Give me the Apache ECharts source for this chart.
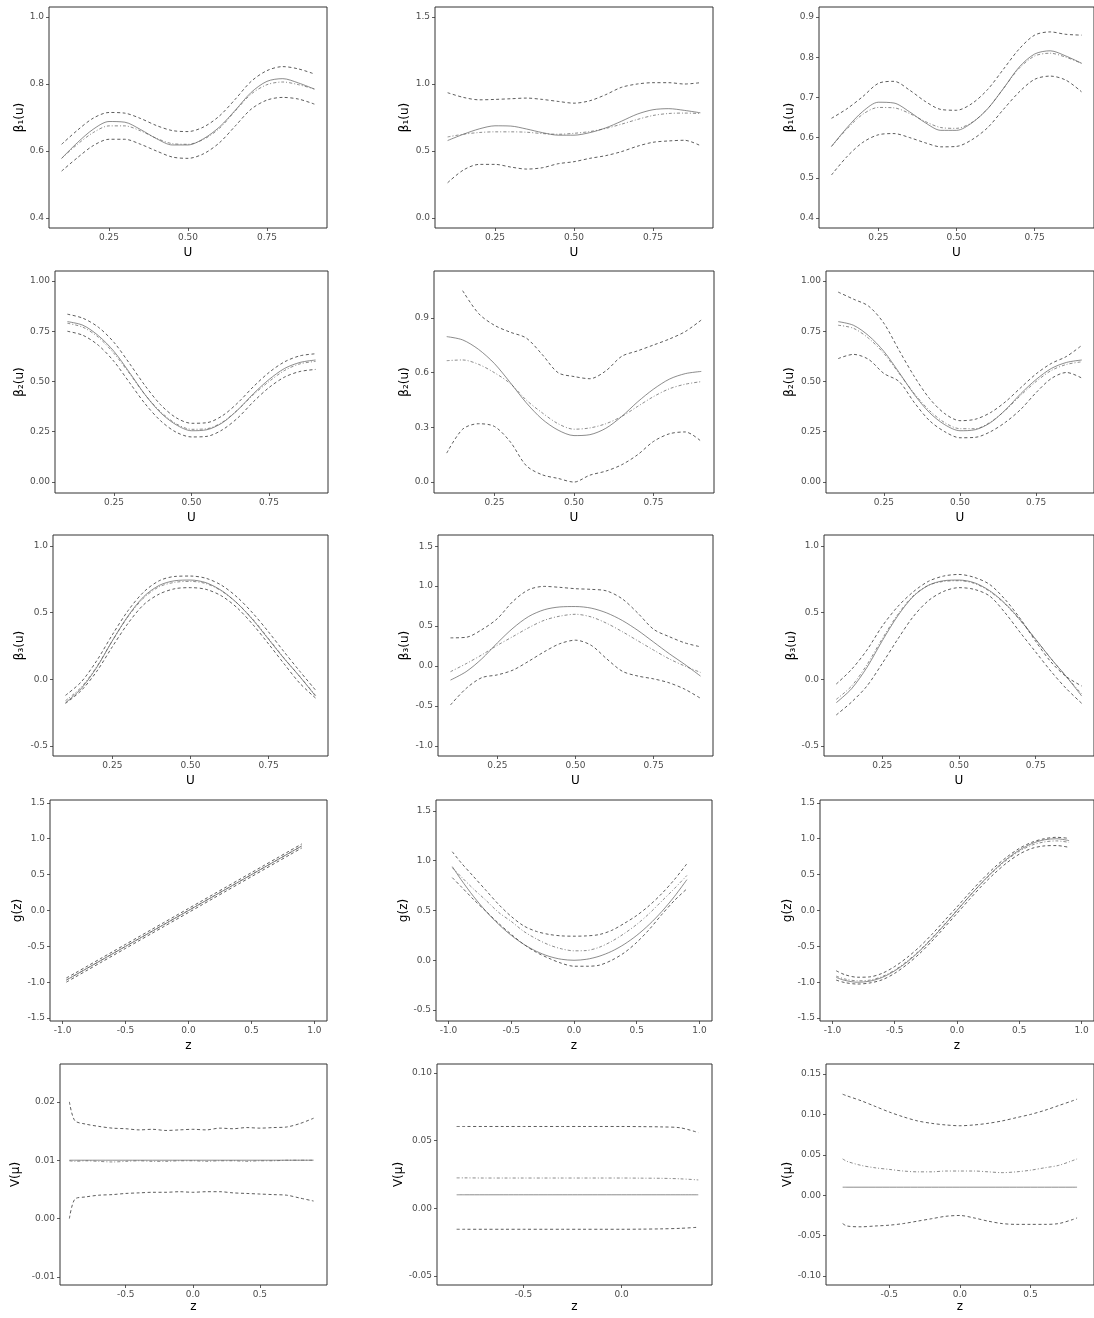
<!DOCTYPE html>
<html><head><meta charset="utf-8">
<script src="https://cdn.jsdelivr.net/npm/echarts@6/dist/echarts.min.js"></script>
<style>html,body{margin:0;padding:0;background:#fff}#c{width:1094px;height:1318px}</style>
</head><body><div id="c"></div>
<script>
// ---------- data ----------
const uGrid = [0.10,0.15,0.20,0.25,0.30,0.35,0.40,0.45,0.50,0.55,0.60,0.65,0.70,0.75,0.80,0.85,0.90];
const zGrid = [-0.97,-0.9,-0.8,-0.7,-0.6,-0.5,-0.4,-0.3,-0.2,-0.1,0,0.1,0.2,0.3,0.4,0.5,0.6,0.7,0.8,0.9];
const z13 = [-0.92,-0.88,-0.8,-0.7,-0.6,-0.5,-0.4,-0.3,-0.2,-0.1,0,0.1,0.2,0.3,0.4,0.5,0.6,0.7,0.8,0.9];
const z14 = [-0.84,-0.8,-0.7,-0.6,-0.5,-0.4,-0.3,-0.2,-0.1,0,0.1,0.2,0.3,0.39];
const z15 = [-0.83,-0.8,-0.7,-0.6,-0.5,-0.4,-0.3,-0.2,-0.1,0,0.1,0.2,0.3,0.4,0.5,0.6,0.7,0.8,0.83];

// true functions
const beta1True = [0.578,0.625,0.665,0.688,0.686,0.664,0.637,0.618,0.618,0.637,0.672,0.722,0.775,0.808,0.816,0.803,0.785];
const beta2True = [0.798,0.78,0.728,0.65,0.545,0.435,0.345,0.285,0.255,0.26,0.295,0.36,0.44,0.51,0.565,0.595,0.607];
const beta3True = [-0.175,-0.07,0.09,0.29,0.475,0.62,0.705,0.74,0.745,0.725,0.665,0.57,0.445,0.3,0.155,0.02,-0.125];
const gLinTrue = [-0.97,-0.9,-0.8,-0.7,-0.6,-0.5,-0.4,-0.3,-0.2,-0.1,0,0.1,0.2,0.3,0.4,0.5,0.6,0.7,0.8,0.9];
const gSqTrue = [0.941,0.81,0.64,0.49,0.36,0.25,0.16,0.09,0.04,0.01,0,0.01,0.04,0.09,0.16,0.25,0.36,0.49,0.64,0.81];
const gSinTrue = [-0.933,-0.974,-1.0,-0.985,-0.932,-0.841,-0.717,-0.565,-0.389,-0.199,0,0.199,0.389,0.565,0.717,0.841,0.932,0.985,1.0,0.974];
const vTrue13 = [0.01,0.01,0.01,0.01,0.01,0.01,0.01,0.01,0.01,0.01,0.01,0.01,0.01,0.01,0.01,0.01,0.01,0.01,0.01,0.01];
const vTrue14 = [0.01,0.01,0.01,0.01,0.01,0.01,0.01,0.01,0.01,0.01,0.01,0.01,0.01,0.01];
const vTrue15 = [0.01,0.01,0.01,0.01,0.01,0.01,0.01,0.01,0.01,0.01,0.01,0.01,0.01,0.01,0.01,0.01,0.01,0.01,0.01];

// row 1
const est1 = [0.578,0.62,0.655,0.675,0.675,0.66,0.638,0.622,0.62,0.635,0.668,0.72,0.77,0.798,0.806,0.798,0.785];
const hi1  = [0.62,0.662,0.698,0.715,0.713,0.697,0.676,0.661,0.658,0.672,0.705,0.755,0.808,0.84,0.852,0.845,0.83];
const lo1  = [0.54,0.58,0.616,0.635,0.635,0.62,0.6,0.582,0.578,0.592,0.625,0.675,0.725,0.752,0.76,0.755,0.74];
const est2 = [0.605,0.625,0.638,0.643,0.643,0.64,0.63,0.625,0.632,0.645,0.668,0.7,0.735,0.765,0.78,0.783,0.78];
const hi2  = [0.935,0.9,0.882,0.885,0.89,0.895,0.885,0.87,0.857,0.875,0.92,0.975,1.0,1.01,1.01,1.0,1.01];
const lo2  = [0.263,0.358,0.4,0.4,0.38,0.365,0.375,0.405,0.42,0.445,0.465,0.495,0.535,0.565,0.575,0.58,0.54];
const est3 = [0.578,0.622,0.658,0.675,0.674,0.66,0.64,0.625,0.623,0.638,0.672,0.722,0.772,0.803,0.81,0.8,0.785];
const hi3  = [0.648,0.672,0.702,0.735,0.74,0.718,0.69,0.67,0.668,0.685,0.72,0.77,0.82,0.855,0.863,0.857,0.855];
const lo3  = [0.507,0.553,0.588,0.607,0.61,0.6,0.587,0.577,0.578,0.595,0.625,0.67,0.713,0.745,0.753,0.743,0.714];
// row 2
const est4 = [0.79,0.77,0.72,0.64,0.54,0.435,0.35,0.29,0.262,0.265,0.298,0.36,0.435,0.5,0.555,0.588,0.6];
const hi4  = [0.835,0.815,0.77,0.695,0.59,0.48,0.385,0.32,0.292,0.295,0.33,0.395,0.475,0.545,0.598,0.628,0.638];
const lo4  = [0.75,0.73,0.68,0.6,0.495,0.39,0.305,0.248,0.224,0.227,0.26,0.32,0.4,0.47,0.522,0.55,0.56];
const est5 = [0.666,0.67,0.646,0.6,0.54,0.45,0.38,0.32,0.29,0.297,0.32,0.36,0.415,0.469,0.512,0.537,0.551];
const hi5  = [null,1.05,0.925,0.86,0.822,0.79,0.7,0.6,0.579,0.567,0.61,0.69,0.72,0.752,0.785,0.826,0.889];
const lo5  = [0.159,0.29,0.32,0.305,0.22,0.09,0.04,0.02,0.0,0.038,0.06,0.095,0.15,0.223,0.265,0.275,0.223];
const est6 = [0.78,0.765,0.715,0.64,0.54,0.44,0.355,0.295,0.265,0.265,0.298,0.358,0.432,0.5,0.555,0.585,0.598];
const hi6  = [0.945,0.91,0.875,0.79,0.655,0.525,0.415,0.34,0.305,0.312,0.345,0.4,0.47,0.538,0.59,0.625,0.68];
const lo6  = [0.614,0.635,0.61,0.54,0.5,0.395,0.305,0.25,0.22,0.222,0.25,0.298,0.362,0.445,0.515,0.545,0.517];
// row 3
const est7 = [-0.16,-0.06,0.095,0.29,0.47,0.61,0.695,0.728,0.735,0.718,0.662,0.57,0.45,0.305,0.158,0.02,-0.12];
const hi7  = [-0.12,-0.02,0.14,0.335,0.515,0.655,0.74,0.772,0.775,0.758,0.705,0.615,0.495,0.355,0.205,0.06,-0.08];
const lo7  = [-0.18,-0.085,0.06,0.245,0.42,0.56,0.64,0.68,0.688,0.675,0.625,0.535,0.41,0.265,0.115,-0.03,-0.14];
const est8 = [-0.07,0.03,0.14,0.26,0.37,0.48,0.573,0.625,0.648,0.615,0.535,0.43,0.315,0.2,0.09,0.0,-0.079];
const hi8  = [0.353,0.36,0.455,0.594,0.81,0.955,0.997,0.985,0.968,0.96,0.94,0.84,0.66,0.46,0.368,0.29,0.241];
const lo8  = [-0.486,-0.28,-0.145,-0.11,-0.05,0.06,0.179,0.28,0.324,0.26,0.09,-0.065,-0.125,-0.16,-0.21,-0.29,-0.403];
const est9 = [-0.15,-0.05,0.11,0.305,0.485,0.625,0.705,0.735,0.74,0.72,0.66,0.565,0.44,0.3,0.155,0.02,-0.11];
const hi9  = [-0.035,0.075,0.22,0.4,0.545,0.655,0.735,0.775,0.787,0.765,0.712,0.6,0.455,0.285,0.13,0.02,-0.05];
const lo9  = [-0.267,-0.17,-0.05,0.12,0.3,0.468,0.59,0.66,0.688,0.675,0.625,0.5,0.35,0.205,0.06,-0.07,-0.18];
// row 4
const est10 = [-0.968,-0.9,-0.8,-0.701,-0.6,-0.5,-0.4,-0.3,-0.2,-0.1,0.001,0.1,0.2,0.3,0.4,0.5,0.6,0.7,0.8,0.9];
const hi10  = [-0.94,-0.872,-0.772,-0.672,-0.572,-0.472,-0.372,-0.272,-0.172,-0.072,0.028,0.128,0.228,0.328,0.428,0.528,0.628,0.728,0.828,0.928];
const lo10  = [-0.998,-0.928,-0.828,-0.728,-0.628,-0.528,-0.428,-0.328,-0.228,-0.128,-0.028,0.072,0.172,0.272,0.372,0.472,0.572,0.672,0.772,0.872];
const est11 = [0.93,0.84,0.715,0.6,0.48,0.39,0.29,0.215,0.155,0.115,0.095,0.098,0.13,0.19,0.268,0.36,0.47,0.595,0.72,0.852];
const hi11  = [1.09,0.98,0.84,0.7,0.56,0.44,0.345,0.29,0.26,0.245,0.242,0.245,0.258,0.3,0.37,0.45,0.55,0.67,0.81,0.97];
const lo11  = [0.83,0.74,0.61,0.49,0.37,0.26,0.16,0.08,0.02,-0.03,-0.06,-0.06,-0.05,0.0,0.075,0.18,0.31,0.46,0.6,0.718];
const est12 = [-0.915,-0.955,-0.98,-0.97,-0.92,-0.83,-0.705,-0.555,-0.38,-0.19,0.005,0.2,0.385,0.555,0.705,0.825,0.91,0.955,0.97,0.95];
const hi12  = [-0.84,-0.895,-0.93,-0.925,-0.875,-0.78,-0.655,-0.505,-0.33,-0.14,0.05,0.245,0.43,0.6,0.745,0.865,0.95,1.0,1.02,1.005];
const lo12  = [-0.97,-1.005,-1.025,-1.01,-0.965,-0.875,-0.75,-0.6,-0.425,-0.235,-0.04,0.155,0.345,0.515,0.665,0.785,0.865,0.9,0.905,0.88];
// row 5
const est13 = [0.0099,0.0098,0.0099,0.0098,0.0097,0.0098,0.0099,0.0098,0.0098,0.0099,0.0099,0.0098,0.0099,0.0099,0.0098,0.0099,0.0099,0.01,0.01,0.01];
const hi13  = [0.0200,0.0168,0.0162,0.0158,0.0155,0.0154,0.0152,0.0153,0.0151,0.0152,0.0153,0.0152,0.0155,0.0154,0.0156,0.0155,0.0156,0.0157,0.0163,0.0172];
const lo13  = [0.0,0.0033,0.0037,0.004,0.0041,0.0043,0.0044,0.0045,0.0045,0.0046,0.0045,0.0046,0.0046,0.0044,0.0043,0.0042,0.0041,0.004,0.0035,0.003];
const est14 = [0.0225,0.0225,0.0224,0.0224,0.0224,0.0224,0.0224,0.0224,0.0224,0.0224,0.0223,0.0222,0.0218,0.021];
const hi14  = [0.0605,0.0605,0.0605,0.0605,0.0605,0.0605,0.0605,0.0605,0.0605,0.0605,0.0604,0.0602,0.0595,0.056];
const lo14  = [-0.0155,-0.0155,-0.0155,-0.0155,-0.0155,-0.0155,-0.0155,-0.0155,-0.0155,-0.0155,-0.0154,-0.0152,-0.0148,-0.014];
const est15 = [0.045,0.042,0.037,0.034,0.032,0.03,0.029,0.029,0.03,0.03,0.03,0.029,0.028,0.029,0.031,0.034,0.037,0.043,0.045];
const hi15  = [0.125,0.123,0.117,0.11,0.103,0.097,0.092,0.089,0.087,0.086,0.087,0.089,0.092,0.096,0.1,0.105,0.111,0.117,0.119];
const lo15  = [-0.035,-0.038,-0.039,-0.038,-0.037,-0.035,-0.032,-0.029,-0.026,-0.025,-0.028,-0.032,-0.035,-0.036,-0.036,-0.036,-0.035,-0.03,-0.028];

// ---------- layout ----------
const uTicks = [0.25,0.5,0.75];
const zTicks = [-1,-0.5,0,0.5,1];
const panels = [
 {g:[49,7,278,221],  x:[0.06,0.94,uTicks,2], y:[0.37,1.03,[0.4,0.6,0.8,1.0],1], xn:'U', yn:'β₁(u)', yg:23, xg:19, xs:uGrid, d:[beta1True,est1,lo1,hi1]},
 {g:[435,7,278,221], x:[0.06,0.94,uTicks,2], y:[-0.075,1.575,[0,0.5,1,1.5],1], xn:'U', yn:'β₁(u)', yg:24, xg:19, xs:uGrid, d:[beta1True,est2,lo2,hi2]},
 {g:[819,7,279,221], x:[0.06,0.94,uTicks,2], y:[0.375,0.925,[0.4,0.5,0.6,0.7,0.8,0.9],1], xn:'U', yn:'β₁(u)', yg:23, xg:19, xs:uGrid, d:[beta1True,est3,lo3,hi3]},
 {g:[55,271,273,222], x:[0.06,0.94,uTicks,2], y:[-0.055,1.05,[0,0.25,0.5,0.75,1],2], xn:'U', yn:'β₂(u)', yg:29, xg:19, xs:uGrid, d:[beta2True,est4,lo4,hi4]},
 {g:[434,271,280,222], x:[0.06,0.94,uTicks,2], y:[-0.06,1.158,[0,0.3,0.6,0.9],1], xn:'U', yn:'β₂(u)', yg:22, xg:19, xs:uGrid, d:[beta2True,est5,lo5,hi5]},
 {g:[826,271,271,222], x:[0.06,0.94,uTicks,2], y:[-0.055,1.05,[0,0.25,0.5,0.75,1],2], xn:'U', yn:'β₂(u)', yg:30, xg:19, xs:uGrid, d:[beta2True,est6,lo6,hi6]},
 {g:[53,535,275,221], x:[0.06,0.94,uTicks,2], y:[-0.575,1.083,[-0.5,0,0.5,1],1], xn:'U', yn:'β₃(u)', yg:27, xg:19, xs:uGrid, d:[beta3True,est7,lo7,hi7]},
 {g:[438,535,275,221], x:[0.06,0.94,uTicks,2], y:[-1.125,1.64,[-1,-0.5,0,0.5,1,1.5],1], xn:'U', yn:'β₃(u)', yg:27, xg:19, xs:uGrid, d:[beta3True,est8,lo8,hi8]},
 {g:[824,535,273,221], x:[0.06,0.94,uTicks,2], y:[-0.575,1.083,[-0.5,0,0.5,1],1], xn:'U', yn:'β₃(u)', yg:26, xg:19, xs:uGrid, d:[beta3True,est9,lo9,hi9]},
 {g:[50,800,277,221], x:[-1.1,1.1,zTicks,1], y:[-1.54,1.54,[-1.5,-1,-0.5,0,0.5,1,1.5],1], xn:'z', yn:'g(z)', yg:23, xg:19, xs:zGrid, d:[gLinTrue,est10,lo10,hi10]},
 {g:[436,800,276,221], x:[-1.1,1.1,zTicks,1], y:[-0.61,1.61,[-0.5,0,0.5,1,1.5],1], xn:'z', yn:'g(z)', yg:24, xg:19, xs:zGrid, d:[gSqTrue,est11,lo11,hi11]},
 {g:[820,800,276,221], x:[-1.1,1.1,zTicks,1], y:[-1.54,1.54,[-1.5,-1,-0.5,0,0.5,1,1.5],1], xn:'z', yn:'g(z)', yg:23, xg:19, xs:zGrid, d:[gSinTrue,est12,lo12,hi12]},
 {g:[60,1064,267,221], x:[-0.99,1.0,[-0.5,0,0.5],1], y:[-0.0114,0.0265,[-0.01,0,0.01,0.02],2], xn:'z', yn:'V(μ)', yg:38, xg:16, xs:z13, d:[vTrue13,est13,lo13,hi13]},
 {g:[437,1064,275,221], x:[-0.94,0.46,[-0.5,0],1], y:[-0.0567,0.1067,[-0.05,0,0.05,0.1],2], xn:'z', yn:'V(μ)', yg:27, xg:16, xs:z14, d:[vTrue14,est14,lo14,hi14]},
 {g:[826,1064,275,221], x:[-0.948,0.95,[-0.5,0,0.5],1], y:[-0.111,0.1624,[-0.1,-0.05,0,0.05,0.1,0.15],2], xn:'z', yn:'V(μ)', yg:31, xg:16, xs:z15, d:[vTrue15,est15,lo15,hi15]}
];

const FONT = 'DejaVu Sans';
const styles = [
  {type:'solid', color:'#5a5a5a', width:0.7},
  {type:[3,2,1,2], color:'#5a5a5a', width:0.7},
  {type:[3,2.5], color:'#333333', width:0.8},
  {type:[3,2.5], color:'#333333', width:0.8}
];
function axis(i, a, name, gap, isY) {
  const ticks = a[2], dec = a[3];
  return {
    type:'value', gridIndex:i, min:a[0], max:a[1],
    name:name, nameLocation:'middle', nameGap:gap, nameRotate: isY ? 90 : 0,
    nameTextStyle:{fontFamily:FONT, fontSize:12, color:'#000'},
    axisLine:{show:false, onZero:false}, splitLine:{show:false},
    axisTick:{show:true, length:3, lineStyle:{color:'#333', width:0.8}, customValues:ticks},
    axisLabel:{customValues:ticks, formatter:v=>Number(v).toFixed(dec), fontFamily:FONT, fontSize:9, color:'#4d4d4d', margin:5}
  };
}
const grid=[], xAxis=[], yAxis=[], series=[];
panels.forEach((p,i)=>{
  grid.push({left:p.g[0], top:p.g[1], width:p.g[2], height:p.g[3], show:true, borderColor:'#333', borderWidth:1, backgroundColor:'transparent'});
  xAxis.push(axis(i, p.x, p.xn, p.xg, false));
  yAxis.push(axis(i, p.y, p.yn, p.yg, true));
  p.d.forEach((arr,k)=>{
    const data = [];
    p.xs.forEach((xv,j)=>{ if (arr[j]!==null && arr[j]!==undefined) data.push([xv, arr[j]]); });
    series.push({type:'line', xAxisIndex:i, yAxisIndex:i, data:data, showSymbol:false, symbol:'none',
      smooth:0.3, silent:true, lineStyle:styles[k], z:k===0?3:2});
  });
});
const chart = echarts.init(document.getElementById('c'), null, {renderer:'canvas'});
chart.setOption({animation:false, backgroundColor:'#fff', grid, xAxis, yAxis, series});
</script></body></html>
